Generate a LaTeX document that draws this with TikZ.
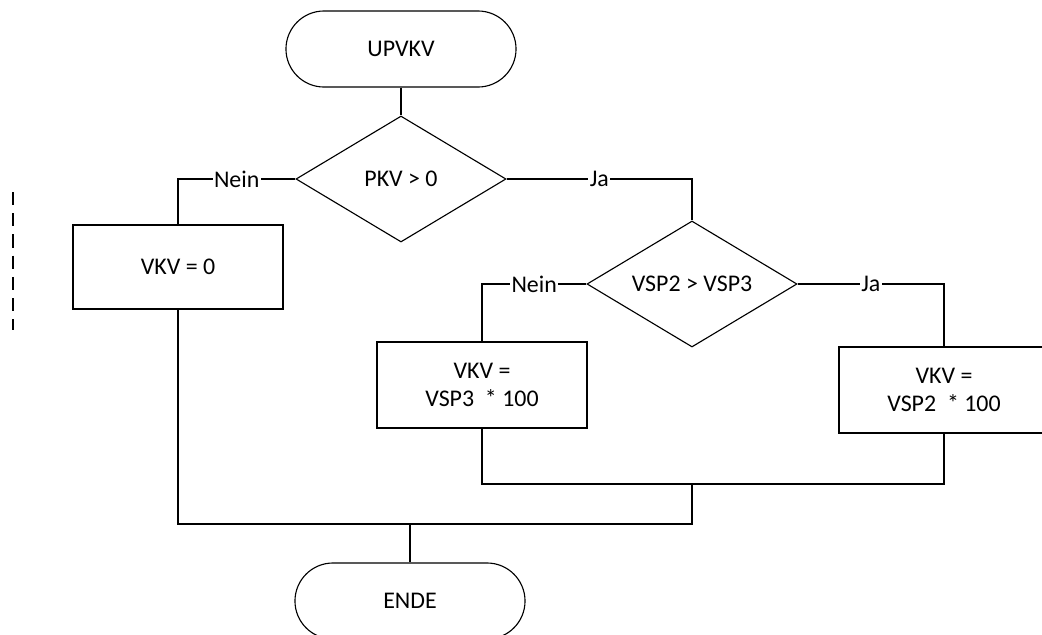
\documentclass[tikz,border=0pt]{standalone}
\usepackage{fontspec}
\setmainfont{Carlito}
\usetikzlibrary{shapes.geometric}

\begin{document}
\begin{tikzpicture}[x=0.025cm,y=-0.025cm,line width=0.8pt,
  font=\fontsize{17}{20.4}\selectfont,
  terminal/.style={draw,rectangle,rounded corners=0.95cm,minimum width=5.75cm,minimum height=1.9cm},
  decision/.style={draw,diamond,aspect=1.7,inner sep=0pt,minimum width=5.25cm,minimum height=3.15cm},
  process/.style={draw,rectangle,align=center,minimum width=5.25cm,minimum height=2.15cm},
  answer/.style={fill=white,inner sep=1pt}]
  \useasboundingbox (0,0) rectangle (1042,634);

  \node [terminal] (upvkv) at (401,49) {UPVKV};
  \node [decision] (pkv) at (401,179) {PKV > 0};
  \node [process,minimum height=2.1cm] (vkv0) at (178,267) {VKV = 0};
  \node [decision] (vsp) at (692,284) {VSP2 > VSP3};
  \node [process] (vkv3) at (482,385) {VKV =\\VSP3~ * 100};
  \node [process] (vkv2) at (944,390) {VKV =\\VSP2~ * 100};
  \node [terminal] (ende) at (410,601) {ENDE};

  \draw (upvkv) -- (pkv);
  \draw (pkv.west) -| node [answer,pos=0.25] {Nein} (vkv0.north);
  \draw (pkv.east) -| node [answer,pos=0.25] {Ja} (vsp.north);
  \draw (vsp.west) -| node [answer,pos=0.25] {Nein} (vkv3.north);
  \draw (vsp.east) -| node [answer,pos=0.25] {Ja} (vkv2.north);

  \coordinate (join1) at (692,484);
  \coordinate (join2) at (410,524);
  \draw (vkv3.south) |- (join1) -| (vkv2.south);
  \draw (vkv0.south) |- (join2) -| (join1);
  \draw (join2) -- (ende);

  \draw [dash pattern=on 0.33cm off 0.2cm] (13,192) -- (13,330);
\end{tikzpicture}
\end{document}
